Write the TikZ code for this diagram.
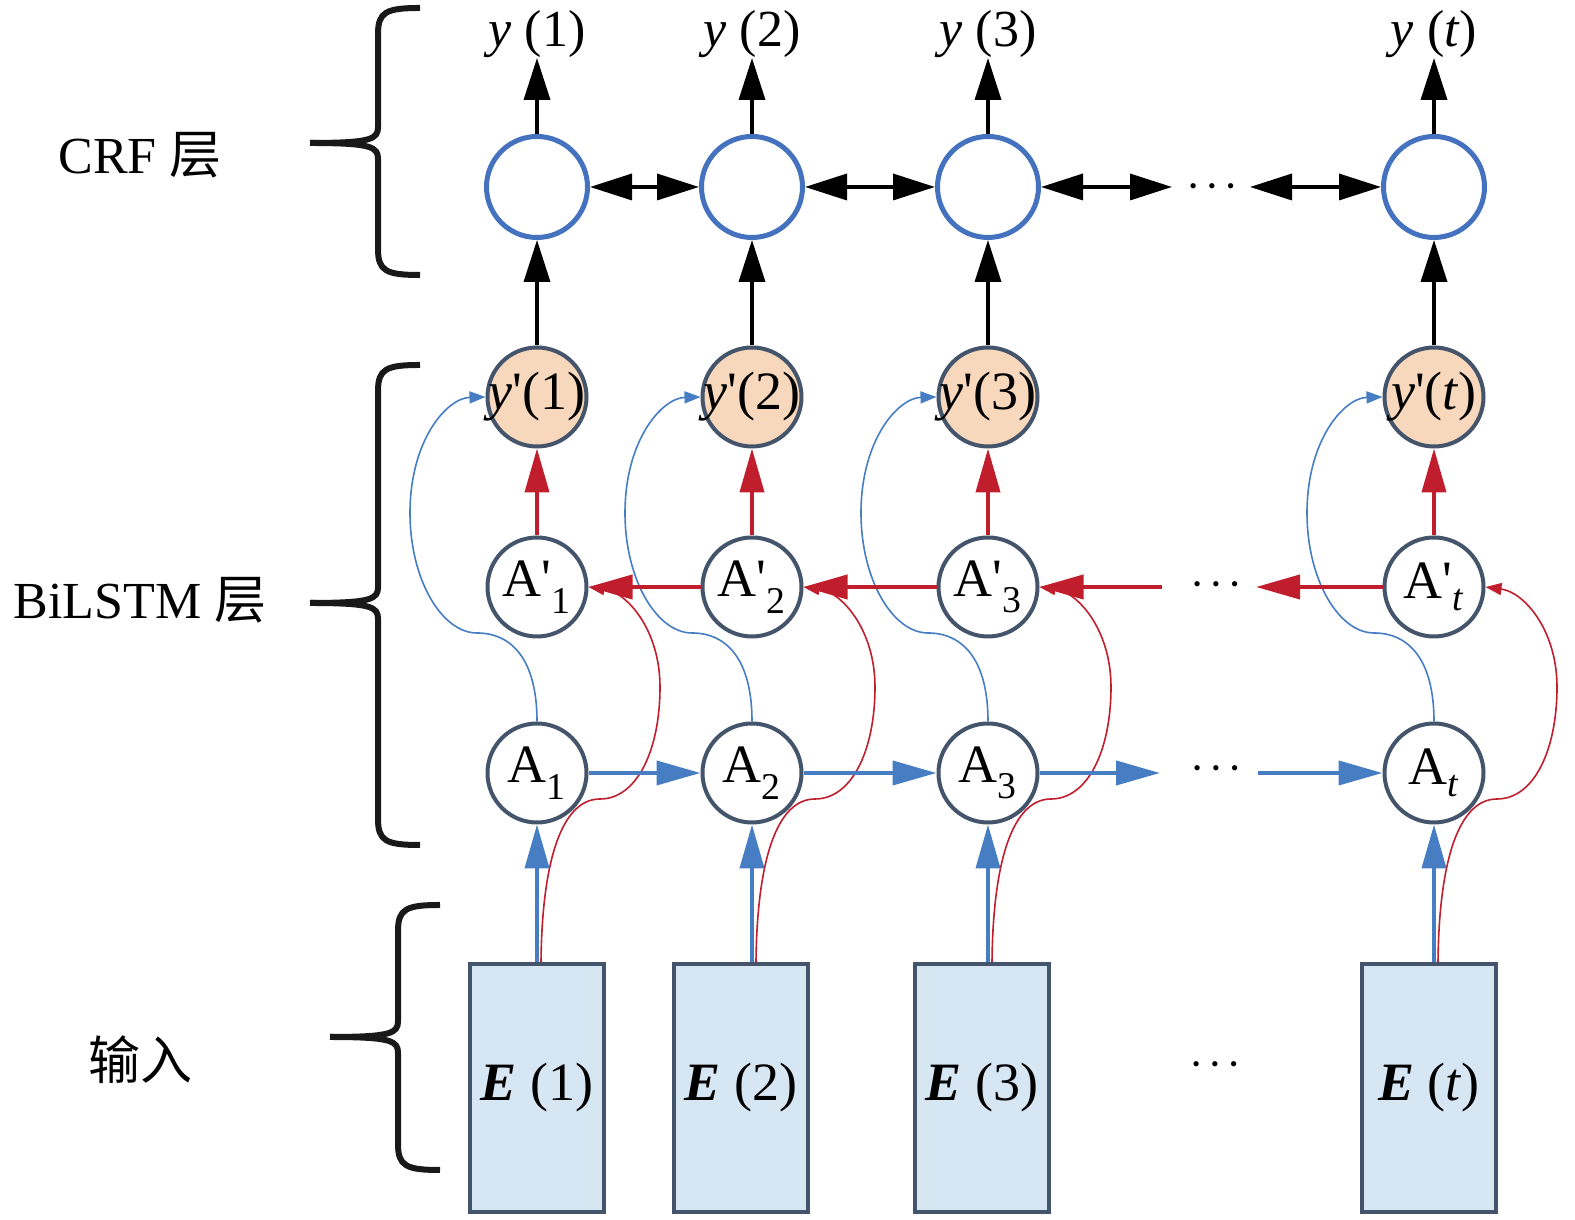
\documentclass[tikz,border=0pt]{standalone}
\usepackage{fontspec}
\setmainfont{Liberation Serif}
\newfontfamily\cjk{Noto Sans CJK SC}
\usepackage{tikz}
\usetikzlibrary{arrows.meta}
\usetikzlibrary{backgrounds}
\definecolor{crfblue}{RGB}{68,114,190}
\definecolor{edgegray}{RGB}{68,84,106}
\definecolor{peach}{RGB}{248,216,188}
\definecolor{boxblue}{RGB}{214,230,243}
\definecolor{lstmred}{RGB}{192,30,45}
\definecolor{lstmblue}{RGB}{70,125,195}
\tikzset{
  crfnode/.style={circle,draw=crfblue,line width=5pt,fill=white,minimum size=101pt,inner sep=0pt},
  ypnode/.style={circle,draw=edgegray,line width=4pt,fill=peach,minimum size=99pt,inner sep=0pt,font=\fontsize{54}{64}\selectfont},
  lstmnode/.style={circle,draw=edgegray,line width=4pt,fill=white,minimum size=99pt,inner sep=0pt,font=\fontsize{54}{64}\selectfont},
  embbox/.style={rectangle,draw=edgegray,line width=4pt,fill=boxblue,minimum width=134pt,minimum height=248pt,font=\fontsize{54}{64}\selectfont},
  layerlabel/.style={inner sep=0pt,font=\fontsize{52}{62}\selectfont},
  outlabel/.style={inner sep=0pt,font=\fontsize{52}{62}\selectfont},
  dotsnode/.style={inner sep=0pt,font=\fontsize{22}{22}\selectfont},
  brace/.style={line width=6pt,color=black!90},
  blackarrow/.style={line width=3.5pt,-{Triangle[length=42pt,width=26pt]}},
  blackboth/.style={line width=3.5pt,{Triangle[length=42pt,width=26pt]}-{Triangle[length=42pt,width=26pt]}},
  redarrow/.style={line width=4pt,color=lstmred,-{Triangle[length=44pt,width=24pt]}},
  bluearrow/.style={line width=4pt,color=lstmblue,-{Triangle[length=44pt,width=24pt]}},
  redcurve/.style={line width=1.6pt,color=lstmred,-{Triangle[length=16pt,width=12pt]}},
  bluecurve/.style={line width=1.6pt,color=lstmblue,-{Triangle[length=16pt,width=12pt]}},
}
\newcommand{\gapdots}{\textbullet\hspace{11pt}\textbullet\hspace{11pt}\textbullet}

\begin{document}
\begin{tikzpicture}[x=1pt,y=1pt]
\useasboundingbox (0,0) rectangle (1575,1220);
% layer labels and braces
\node[layerlabel] (crflabel) at (140,1065) {CRF {\cjk 层}};
\node[layerlabel] (lstmlabel) at (140,620) {BiLSTM {\cjk 层}};
\node[layerlabel] (inlabel) at (140,160) {{\cjk 输入}};
\foreach \tx/\sx/\lx/\ty/\my/\by in {420/378/310/1212/1077/945, 420/378/310/855/617/375, 440/398/330/315/183/50} {
\draw[brace] (\tx,\ty) .. controls ({\sx+8},\ty) and (\sx,{\ty-4}) .. (\sx,{\ty-26}) -- (\sx,{\my+16}) .. controls (\sx,{\my+4}) and ({\sx-6},\my) .. (\lx,\my);
\draw[brace] (\tx,\by) .. controls ({\sx+8},\by) and (\sx,{\by+4}) .. (\sx,{\by+26}) -- (\sx,{\my-16}) .. controls (\sx,{\my-4}) and ({\sx-6},\my) .. (\lx,\my);
}
% nodes
\foreach \i/\x/\n in {1/537/1, 2/752/2, 3/988/3, 4/1434/\textit{t}} {
\node[crfnode] (crf\i) at (\x,1033) {};
\node[outlabel,anchor=south] (y\i) at (\x,1162) {\textit{y} (\n)};
\node[ypnode] (yp\i) at (\x,823) {\makebox[0pt]{\textit{y}\textquotesingle(\n)}};
\node[lstmnode] (ap\i) at (\x,633) {A\textquotesingle\textsubscript{\n}};
\node[lstmnode] (a\i) at (\x,447) {A\textsubscript{\n}};
}
\foreach \i/\x/\n in {1/537/1, 2/741/2, 3/982/3, 4/1429/\textit{t}} {
\node[embbox] (e\i) at (\x,132) {\textbf{\textit{E}} (\n)};
}
\node[dotsnode] (crfdots) at (1212,1031) {\gapdots};
\node[dotsnode] (apdots) at (1216,633) {\gapdots};
\node[dotsnode] (adots) at (1216,449) {\gapdots};
\node[dotsnode] (edots) at (1215,153) {\gapdots};
\coordinate (crfL) at (1172,1033);
\coordinate (crfR) at (1250,1033);
\coordinate (apL) at (1162,633);
\coordinate (apR) at (1256,633);
\coordinate (aL) at (1160,447);
\coordinate (aR) at (1258,447);
% vertical connections
\foreach \i in {1,...,4} {
\draw[blackarrow] (crf\i.north) -- (y\i.south);
\draw[blackarrow] (yp\i.north) -- (crf\i.south);
\draw[redarrow] (ap\i.north) -- (yp\i.south);
\draw[bluearrow] (a\i |- e\i.north) -- (a\i.south);
}
% horizontal connections
\draw[blackboth] (crf1) -- (crf2);
\draw[blackboth] (crf2) -- (crf3);
\draw[blackboth] (crf3.east) -- (crfL);
\draw[blackboth] (crfR) -- (crf4.west);
\draw[redarrow] (ap2) -- (ap1);
\draw[redarrow] (ap3) -- (ap2);
\draw[redarrow] (apL) -- (ap3.east);
\draw[redarrow] (ap4.west) -- (apR);
\draw[bluearrow] (a1) -- (a2);
\draw[bluearrow] (a2) -- (a3);
\draw[bluearrow] (a3.east) -- (aL);
\draw[bluearrow] (aR) -- (a4.west);
% skip connections
\begin{scope}[on background layer]
\foreach \i/\x in {1/537, 2/752, 3/988, 4/1434} {
\draw[redcurve] ([xshift=4pt]a\i |- e\i.north) .. controls ({\x+5},360) and ({\x+25},421) .. ({\x+63},421) .. controls ({\x+100},421) and ({\x+123},470) .. ({\x+123},533) .. controls ({\x+123},590) and ({\x+90},628) .. (ap\i.east);
\draw[bluecurve] (a\i.north) .. controls (\x,560) and ({\x-25},587) .. ({\x-60},587) .. controls ({\x-95},587) and ({\x-127},640) .. ({\x-127},707) .. controls ({\x-127},780) and ({\x-90},822) .. (yp\i.west);
}
\end{scope}
\end{tikzpicture}
\end{document}
